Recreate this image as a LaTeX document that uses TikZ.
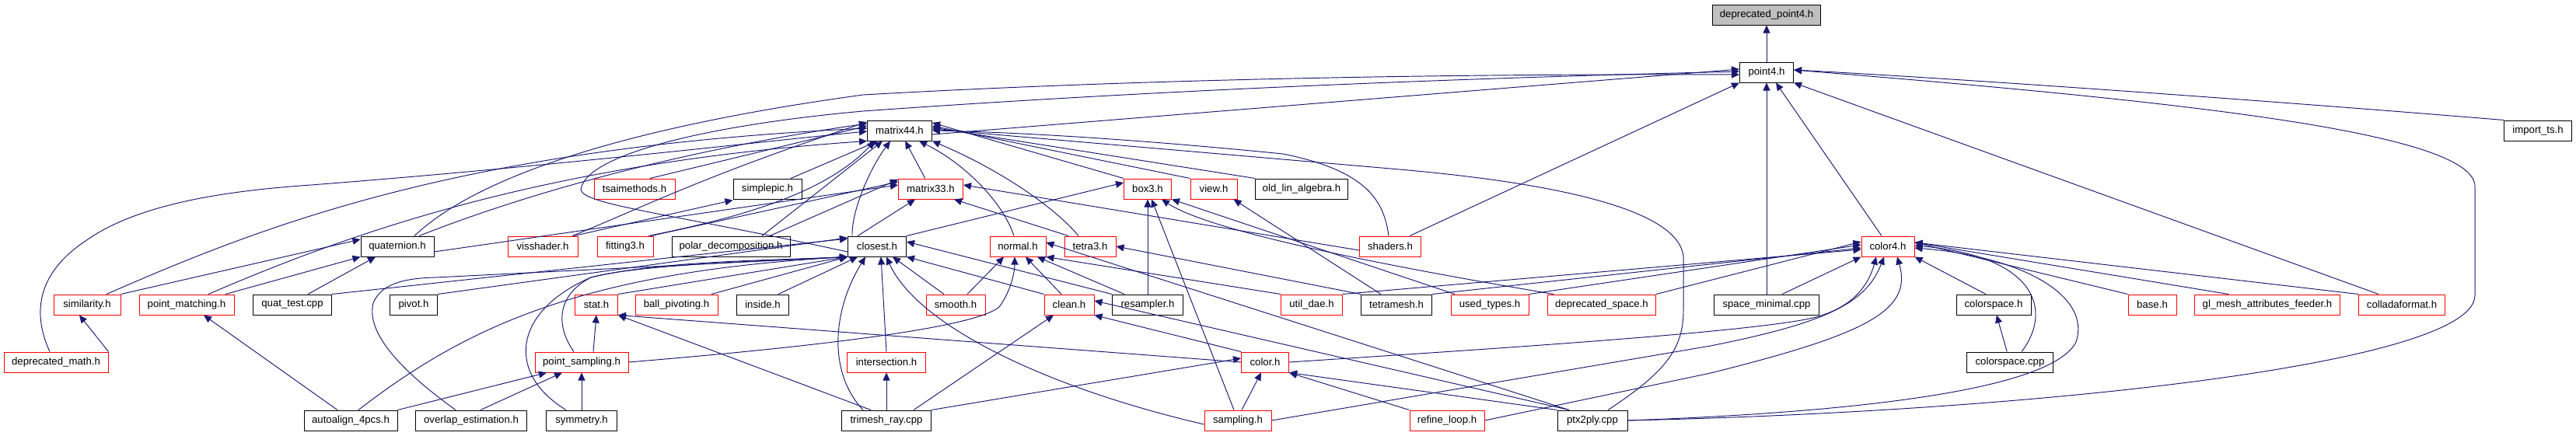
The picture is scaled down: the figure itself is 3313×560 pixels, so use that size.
\documentclass[tikz,border=0pt]{standalone}
\usepackage{fontspec}
\setmainfont{Liberation Sans}
\usetikzlibrary{arrows.meta}
\definecolor{eblue}{HTML}{191970}
\definecolor{nred}{HTML}{FF0000}
\definecolor{ngray}{HTML}{BFBFBF}
\begin{document}
\begin{tikzpicture}[x=1pt,y=-1pt,
  nb/.style={draw=black,fill=white,line width=1pt,minimum height=26pt,inner sep=0pt,font=\fontsize{13.2}{15}\selectfont},
  nr/.style={nb,draw=nred},
  ng/.style={nb,fill=ngray},
  e/.style={draw=eblue,line width=0.95pt,-{Triangle[length=10pt,width=9pt]}}]
\useasboundingbox (0,0) rectangle (3313,560);
% row 0
\node[ng,minimum width=139] (dp4) at (2272,19) {deprecated\_point4.h};
% row 1
\node[nb,minimum width=69] (p4) at (2272,93) {point4.h};
% row 2
\node[nb,minimum width=83] (m44) at (1157,168) {matrix44.h};
\node[nb,minimum width=87] (imts) at (3264,168) {import\_ts.h};
% row 3
\node[nr,minimum width=104] (tsai) at (816,243) {tsaimethods.h};
\node[nb,minimum width=88] (spic) at (987,243) {simplepic.h};
\node[nr,minimum width=83] (m33) at (1197,243) {matrix33.h};
\node[nr,minimum width=61] (box3) at (1476,243) {box3.h};
\node[nr,minimum width=60] (view) at (1561,243) {view.h};
\node[nb,minimum width=119] (olin) at (1674,243) {old\_lin\_algebra.h};
% row 4
\node[nb,minimum width=94] (quat) at (511,317) {quaternion.h};
\node[nr,minimum width=90] (viss) at (698,317) {visshader.h};
\node[nr,minimum width=72] (fit3) at (804,317) {fitting3.h};
\node[nb,minimum width=152] (polar) at (940,317) {polar\_decomposition.h};
\node[nb,minimum width=75] (clos) at (1128,317) {closest.h};
\node[nr,minimum width=72] (norm) at (1309,317) {normal.h};
\node[nr,minimum width=66] (tet3) at (1402,317) {tetra3.h};
\node[nr,minimum width=79] (shad) at (1788,317) {shaders.h};
\node[nr,minimum width=68] (col4) at (2428,317) {color4.h};
% row 5
\node[nr,minimum width=86] (simil) at (112,392) {similarity.h};
\node[nr,minimum width=122] (pmat) at (240,392) {point\_matching.h};
\node[nb,minimum width=101] (qtest) at (376,392) {quat\_test.cpp};
\node[nb,minimum width=61] (pivot) at (532,392) {pivot.h};
\node[nr,minimum width=55] (stat) at (767,392) {stat.h};
\node[nr,minimum width=106] (ball) at (870,392) {ball\_pivoting.h};
\node[nb,minimum width=67] (inside) at (981,392) {inside.h};
\node[nr,minimum width=76] (smooth) at (1229,392) {smooth.h};
\node[nr,minimum width=64] (clean) at (1375,392) {clean.h};
\node[nb,minimum width=91] (resam) at (1476,392) {resampler.h};
\node[nr,minimum width=79] (udae) at (1687,392) {util\_dae.h};
\node[nb,minimum width=91] (tmesh) at (1796,392) {tetramesh.h};
\node[nr,minimum width=100] (utyp) at (1916,392) {used\_types.h};
\node[nr,minimum width=139] (dspace) at (2060,392) {deprecated\_space.h};
\node[nb,minimum width=135] (smin) at (2272,392) {space\_minimal.cpp};
\node[nb,minimum width=96] (cspace) at (2564,392) {colorspace.h};
\node[nr,minimum width=62] (base) at (2768,392) {base.h};
\node[nr,minimum width=187] (glmesh) at (2916,392) {gl\_mesh\_attributes\_feeder.h};
\node[nr,minimum width=111] (collada) at (3089,392) {colladaformat.h};
% row 6
\node[nr,minimum width=134] (dmath) at (72,466) {deprecated\_math.h};
\node[nr,minimum width=120] (psamp) at (748,466) {point\_sampling.h};
\node[nr,minimum width=101] (inters) at (1140,466) {intersection.h};
\node[nr,minimum width=61] (color) at (1627,466) {color.h};
\node[nb,minimum width=111] (cscpp) at (2585,466) {colorspace.cpp};
% row 7
\node[nb,minimum width=120] (auto4) at (451,541) {autoalign\_4pcs.h};
\node[nb,minimum width=143] (overl) at (606,541) {overlap\_estimation.h};
\node[nb,minimum width=91] (symm) at (748,541) {symmetry.h};
\node[nb,minimum width=115] (trimr) at (1140,541) {trimesh\_ray.cpp};
\node[nr,minimum width=86] (sampl) at (1592,541) {sampling.h};
\node[nr,minimum width=96] (refl) at (1861,541) {refine\_loop.h};
\node[nb,minimum width=90] (ptx) at (2048,541) {ptx2ply.cpp};

% ---------- edges ----------
\draw[e] (p4) -- (dp4);
% into point4
\draw[e] ([yshift=-5]m44.east) -- ([yshift=4]p4.west);
\draw[e] ([xshift=22]quat.north) .. controls (600,240) and (760,170) .. (1110,122) .. controls (1500,100) and (1900,95) .. ([yshift=-3]p4.west);
\draw[e] ([yshift=-7]clos.west) .. controls (850,272) and (735,262) .. (748,240) .. controls (760,200) and (900,162) .. (1110,143) .. controls (1500,115) and (1900,100) .. ([yshift=1]p4.west);
\draw[e] ([xshift=25]shad.north) -- (p4.south west);
\draw[e] (smin) -- (p4);
\draw[e] ([xshift=-8]col4.north) -- ([xshift=12]p4.south);
\draw[e] (imts.north west) .. controls (2900,128) and (2500,100) .. ([yshift=3]p4.east);
\draw[e] (ptx.east) .. controls (2600,530) and (3183,470) .. (3183,380) -- (3183,240) .. controls (3183,170) and (2800,130) .. ([yshift=3]p4.east);
\draw[e] ([xshift=-30]collada.north) -- (p4.south east);
% into matrix44
\draw[e] ([xshift=20]tsai.north) -- ([yshift=6]m44.west);
\draw[e] ([xshift=30]spic.north) -- ([xshift=-28]m44.south);
\draw[e] (m33) -- (m44);
\draw[e] (box3.north west) -- ([yshift=10]m44.east);
\draw[e] (view.north west) -- ([yshift=6]m44.east);
\draw[e] (olin.north west) -- ([yshift=4]m44.east);
\draw[e] ([xshift=28]quat.north) .. controls (700,240) and (900,190) .. ([yshift=9]m44.west);
\draw[e] ([xshift=25]simil.north) .. controls (350,285) and (600,190) .. ([yshift=3]m44.west);
\draw[e] ([xshift=28]pmat.north) .. controls (450,300) and (700,210) .. (m44.south west);
\draw[e] ([xshift=-8]dmath.north) .. controls (40,400) and (50,350) .. (110,310) .. controls (180,260) and (300,245) .. (400,238) .. controls (700,215) and (1000,180) .. ([yshift=-1]m44.west);
\draw[e] ([xshift=38]viss.north) .. controls (820,270) and (900,228) .. ([yshift=11]m44.west);
\draw[e] ([xshift=30]fit3.north) .. controls (950,280) and (1060,250) .. ([xshift=-32]m44.south);
\draw[e] ([xshift=40]polar.north) -- ([xshift=-22]m44.south);
\draw[e] ([xshift=-32]clos.north) .. controls (1095,270) and (1120,215) .. ([xshift=-12]m44.south);
\draw[e] ([xshift=-5]norm.north) .. controls (1290,260) and (1240,210) .. ([xshift=25]m44.south);
\draw[e] ([xshift=-15]tet3.north) .. controls (1360,270) and (1290,220) .. (m44.south east);
\draw[e] ([xshift=-2]shad.north) .. controls (1780,260) and (1760,220) .. (1650,198) .. controls (1450,178) and (1300,170) .. ([yshift=0]m44.east);
\draw[e] ([xshift=20]ptx.north) .. controls (2140,480) and (2165,450) .. (2165,400) -- (2165,330) .. controls (2160,280) and (2050,240) .. (1800,218) .. controls (1500,192) and (1300,175) .. ([yshift=2]m44.east);
% into simplepic
\draw[e] ([xshift=40]viss.north) -- ([yshift=-1]spic.south west);
% into matrix33
\draw[e] ([yshift=-7]quat.east) -- ([yshift=5]m33.west);
\draw[e] ([xshift=33]fit3.north) -- ([yshift=9]m33.west);
\draw[e] ([xshift=50]polar.north) -- ([yshift=12]m33.west);
\draw[e] ([xshift=-25]clos.north) -- ([xshift=-20]m33.south);
\draw[e] ([xshift=-28]tet3.north) -- ([xshift=30]m33.south);
\draw[e] ([yshift=-5]shad.west) -- ([yshift=5]m33.east);
% into box3
\draw[e] (clos.north east) -- ([yshift=8]box3.west);
\draw[e] (resam.north) -- (box3.south);
\draw[e] ([xshift=-5]sampl.north) -- ([xshift=5]box3.south);
\draw[e] ([xshift=-62]dspace.north) .. controls (1800,345) and (1560,300) .. ([xshift=18]box3.south);
\draw[e] ([xshift=-45]utyp.north) -- (box3.south east);
% view, tetra3
\draw[e] ([xshift=-20]tmesh.north) -- ([xshift=-5]view.south east);
\draw[e] (tmesh.north west) -- (tet3.east);
% into quaternion
\draw[e] (simil.north east) -- ([yshift=9]quat.west);
\draw[e] ([xshift=50]pmat.north) -- (quat.south west);
\draw[e] ([xshift=20]qtest.north) -- ([xshift=-28]quat.south);
% into closest
\draw[e] (qtest.north east) -- ([yshift=10]clos.west);
\draw[e] (pivot.north east) -- ([yshift=11]clos.west);
\draw[e] (stat.north east) -- (clos.south west);
\draw[e] ([xshift=45]ball.north) -- (clos.south west);
\draw[e] ([xshift=20]inside.north) -- ([xshift=-25]clos.south);
\draw[e] ([xshift=10]auto4.north) .. controls (600,420) and (750,350) .. (clos.south west);
\draw[e] ([xshift=-10]psamp.north) .. controls (715,420) and (715,380) .. (760,357) .. controls (820,340) and (1000,335) .. (clos.south west);
\draw[e] ([xshift=-20]symm.north) .. controls (650,480) and (660,400) .. (760,357) .. controls (850,335) and (1000,335) .. (clos.south west);
\draw[e] ([xshift=-20]overl.north) .. controls (520,480) and (470,430) .. (480,390) .. controls (490,365) and (520,358) .. (560,357) -- (clos.south west);
\draw[e] (inters.north) -- ([xshift=5]clos.south);
\draw[e] ([xshift=-30]trimr.north) .. controls (1065,480) and (1070,400) .. ([xshift=-15]clos.south);
\draw[e] ([yshift=-5]sampl.west) .. controls (1350,500) and (1180,420) .. ([xshift=12]clos.south);
\draw[e] ([xshift=-15]smooth.north) -- ([xshift=20]clos.south);
\draw[e] (clean.north west) -- (clos.south east);
\draw[e] (resam.north west) -- ([yshift=6]clos.east);
% into normal
\draw[e] ([xshift=15]smooth.north) -- ([xshift=-18]norm.south);
\draw[e] ([xshift=-10]clean.north) -- ([xshift=10]norm.south);
\draw[e] ([xshift=-30]resam.north) -- ([xshift=25]norm.south);
\draw[e] (psamp.east) .. controls (1000,450) and (1250,425) .. (1285,395) .. controls (1300,375) and (1305,350) .. ([xshift=-4]norm.south);
\draw[e] (udae.north west) -- (norm.south east);
\draw[e] ([xshift=-30]ptx.north) -- ([yshift=5]norm.east);
% into stat, point_sampling, etc.
\draw[e] ([xshift=15]psamp.north) -- (stat.south);
\draw[e] ([xshift=-20]trimr.north) -- (stat.south east);
\draw[e] (color.west) -- (stat.south east);
\draw[e] (auto4.north east) -- ([xshift=-45]psamp.south);
\draw[e] ([xshift=-60]overl.north east) -- ([xshift=-25]psamp.south);
\draw[e] (symm) -- (psamp);
\draw[e] (dmath.north east) -- ([xshift=-10]simil.south);
\draw[e] ([xshift=-17]auto4.north) -- ([xshift=22]pmat.south);
\draw[e] (trimr.north) -- (inters);
\draw[e] ([xshift=35]trimr.north) -- ([xshift=-20]clean.south);
\draw[e] (color.north west) -- (clean.south east);
\draw[e] ([xshift=-30]ptx.north) -- ([yshift=5]clean.east);
\draw[e] (trimr.north east) -- ([yshift=5]color.west);
\draw[e] ([xshift=5]sampl.north) -- ([xshift=-5]color.south);
\draw[e] (refl.north west) -- (color.south east);
\draw[e] (ptx.north west) -- (color.south east);
\draw[e] (cscpp) -- (cspace);
% into color4
\draw[e] (color.east) .. controls (1900,450) and (2300,425) .. (2345,405) .. controls (2390,390) and (2405,360) .. ([xshift=-15]col4.south);
\draw[e] (sampl.east) -- (2200,445) .. controls (2350,415) and (2400,390) .. ([xshift=-5]col4.south);
\draw[e] (refl.east) -- (2200,480) .. controls (2400,430) and (2460,400) .. ([xshift=12]col4.south);
\draw[e] ([xshift=15]cscpp.north) .. controls (2640,400) and (2620,330) .. ([yshift=1]col4.east);
\draw[e] (ptx.east) .. controls (2400,530) and (2640,500) .. (2670,440) .. controls (2690,380) and (2600,330) .. ([yshift=-2]col4.east);
\draw[e] ([xshift=20]smin.north) -- (col4.south west);
\draw[e] ([xshift=-10]cspace.north) -- (col4.south east);
\draw[e] (udae.north east) -- ([yshift=-4]col4.west);
\draw[e] (tmesh.north east) -- ([yshift=-2]col4.west);
\draw[e] (utyp.north east) -- ([yshift=2]col4.west);
\draw[e] (dspace.north east) -- ([yshift=6]col4.west);
\draw[e] (base.north west) -- ([yshift=5]col4.east);
\draw[e] ([xshift=-50]glmesh.north) -- ([yshift=5]col4.east);
\draw[e] (collada.north west) -- ([yshift=5]col4.east);
\end{tikzpicture}
\end{document}
